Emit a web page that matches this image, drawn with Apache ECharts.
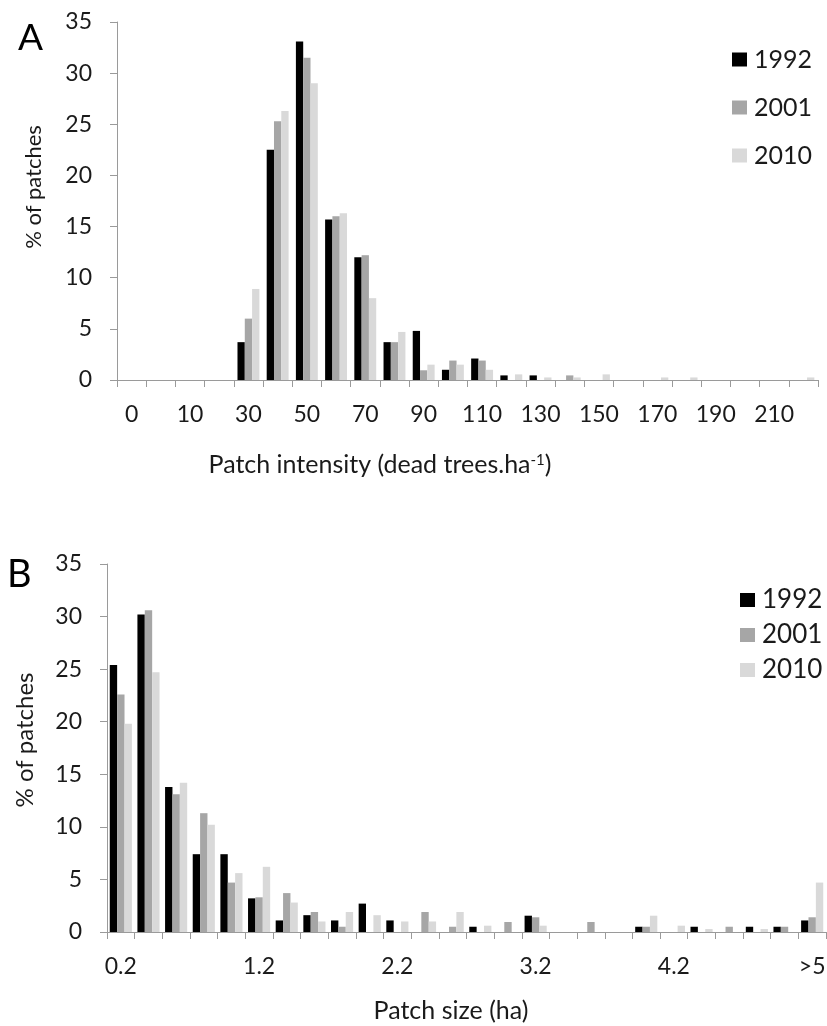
<!DOCTYPE html>
<html>
<head>
<meta charset="utf-8">
<script src="https://cdn.jsdelivr.net/npm/echarts/dist/echarts.min.js"></script>
<style>
html,body{margin:0;padding:0;background:#fff;}
#chart{width:827px;height:1026px;}
</style>
</head>
<body>
<div id="chart"></div>
<script>
// ---------- Panel A: patch intensity ----------
const intensityCategories = ['0','5','10','20','30','40','50','60','70','80','90','100','110','120','130','140','150','160','170','180','190','200','210','220'];
const intensity1992 = [0,0,0,0,3.7,22.5,33.1,15.7,12.0,3.7,4.8,1.0,2.1,0.45,0.45,0,0,0,0,0,0,0,0,0];
const intensity2001 = [0,0,0,0,6.0,25.3,31.5,16.0,12.2,3.7,0.95,1.9,1.9,0,0,0.45,0,0,0,0,0,0,0,0];
const intensity2010 = [0,0,0,0,8.9,26.3,29.0,16.3,8.0,4.7,1.5,1.5,1.0,0.55,0.25,0.25,0.55,0,0.25,0.25,0,0,0,0.25];

// ---------- Panel B: patch size ----------
const sizeCategories = ['0.2','0.4','0.6','0.8','1','1.2','1.4','1.6','1.8','2','2.2','2.4','2.6','2.8','3','3.2','3.4','3.6','3.8','4','4.2','4.4','4.6','4.8','5','>5'];
const size1992 = [25.4,30.2,13.8,7.4,7.4,3.2,1.1,1.6,1.1,2.7,1.1,0,0,0.5,0,1.55,0,0,0,0.5,0,0.5,0,0.5,0.5,1.1];
const size2001 = [22.6,30.6,13.1,11.3,4.7,3.3,3.7,1.9,0.5,0,0,1.9,0.5,0,0.95,1.4,0,0.95,0,0.5,0,0,0.5,0,0.5,1.4];
const size2010 = [19.8,24.7,14.2,10.2,5.6,6.2,2.8,1.0,1.9,1.6,1.0,1.0,1.9,0.6,0,0.6,0,0,0,1.55,0.6,0.28,0,0.28,0,4.7];

const seriesNames = ['1992','2001','2010'];
const yTickInterval = 5;
const yMax = 35;

const FONT = 'Lato, "Open Sans", sans-serif';
const TXT = '#1a1a1a';
const AXIS = '#9a9a9a';
const colors = ['#000000','#a6a6a6','#d9d9d9'];

const chart = echarts.init(document.getElementById('chart'), null, {renderer:'canvas'});

function xAxisDef(gridIndex, cats, labelInterval, fs){
  return {
    type:'category', gridIndex, data:cats, boundaryGap:true,
    axisLine:{show:true, lineStyle:{color:AXIS, width:1}},
    axisTick:{show:true, interval:0, alignWithLabel:false, length:7, lineStyle:{color:AXIS}},
    axisLabel:{interval:labelInterval, color:TXT, fontFamily:FONT, fontSize:fs, margin:23, lineHeight:fs},
    splitLine:{show:false}
  };
}
function yAxisDef(gridIndex, fs){
  return {
    type:'value', gridIndex, min:0, max:yMax, interval:yTickInterval,
    axisLine:{show:true, lineStyle:{color:AXIS, width:1}},
    axisTick:{show:true, length:7, lineStyle:{color:AXIS}},
    axisLabel:{color:TXT, fontFamily:FONT, fontSize:fs, margin:25},
    splitLine:{show:false}
  };
}

const dataA = [intensity1992, intensity2001, intensity2010];
const dataB = [size1992, size2001, size2010];
const series = [];
seriesNames.forEach((n,i)=>{
  series.push({type:'bar', name:n, xAxisIndex:0, yAxisIndex:0, data:dataA[i],
    itemStyle:{color:colors[i]}, barGap:'0%', barCategoryGap:'25%'});
});
seriesNames.forEach((n,i)=>{
  series.push({type:'bar', name:n, xAxisIndex:1, yAxisIndex:1, data:dataB[i],
    itemStyle:{color:colors[i]}, barGap:'0%', barCategoryGap:'20%'});
});

const option = {
  animation:false,
  backgroundColor:'#ffffff',
  color:colors,
  textStyle:{fontFamily:FONT},
  grid:[
    {left:117, top:22, width:701, height:358, containLabel:false, outerBoundsMode:'none'},
    {left:107, top:564, width:719, height:368, containLabel:false, outerBoundsMode:'none'}
  ],
  xAxis:[ xAxisDef(0, intensityCategories, 1, 23), xAxisDef(1, sizeCategories, 4, 23) ],
  yAxis:[ yAxisDef(0, 23), yAxisDef(1, 23) ],
  legend:[
    {orient:'vertical', left:727, top:42, itemWidth:15, itemHeight:14, itemGap:23, icon:'rect',
     data:seriesNames, selectedMode:false,
     textStyle:{color:TXT, fontFamily:FONT, fontSize:25, padding:[0,0,0,2]}},
    {orient:'vertical', left:735, top:582, itemWidth:15, itemHeight:14, itemGap:9, icon:'rect',
     data:seriesNames, selectedMode:false,
     textStyle:{color:TXT, fontFamily:FONT, fontSize:26, padding:[0,0,0,2]}}
  ],
  graphic:[
    {type:'text', left:18, top:20, style:{text:'A', font:'37px '+FONT, fill:'#000'}},
    {type:'text', left:7, top:556, style:{text:'B', font:'38px '+FONT, fill:'#000'}},
    {type:'text', x:34, y:187, rotation:Math.PI/2,
     style:{text:'% of patches', font:'22px '+FONT, fill:TXT, align:'center', verticalAlign:'middle'}},
    {type:'text', x:25, y:740, rotation:Math.PI/2,
     style:{text:'% of patches', font:'24px '+FONT, fill:TXT, align:'center', verticalAlign:'middle'}},
    {type:'text', x:380, y:465,
     style:{text:'Patch intensity (dead trees.ha{sup|-1})', font:'25px '+FONT, fill:TXT,
            align:'center', verticalAlign:'middle',
            rich:{sup:{fontSize:15, fontFamily:FONT, fill:TXT, verticalAlign:'top', padding:[0,0,9,0]}}}},
    {type:'text', x:451, y:1011,
     style:{text:'Patch size (ha)', font:'25px '+FONT, fill:TXT, align:'center', verticalAlign:'middle'}}
  ],
  series
};
chart.setOption(option);
</script>
</body>
</html>
